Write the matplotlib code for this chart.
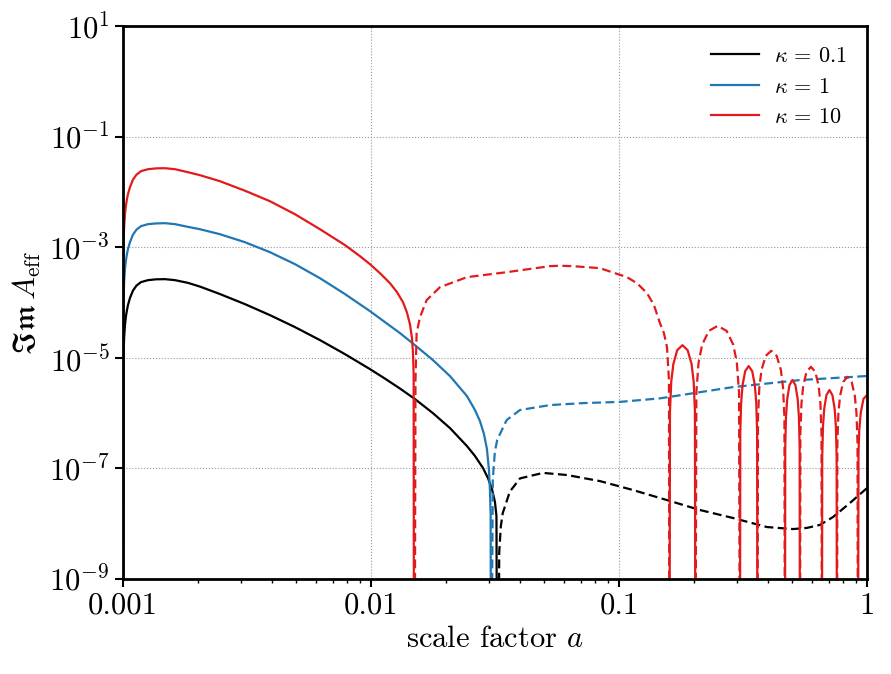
import matplotlib
matplotlib.use("Agg")
import matplotlib.pyplot as plt
from matplotlib import ticker

plt.rcParams['font.family'] = 'serif'
plt.rcParams['font.serif'] = ['cmr10', 'DejaVu Serif']
plt.rcParams['mathtext.fontset'] = 'cm'
plt.rcParams['axes.formatter.use_mathtext'] = True
plt.rcParams['axes.unicode_minus'] = True

FLOOR = 1e-12  # zeros of the signal (drawn below the axis floor)

# shared early-time sampling of the scale factor (positive branches)
early_x = [0.001, 0.0010028, 0.0010065, 0.0010112, 0.0010188, 0.0010282, 0.0010378, 0.0010475,
           0.0010671, 0.0010973, 0.0011335, 0.0011819, 0.0012615, 0.0013588, 0.0014767, 0.0016206,
           0.0018282, 0.0020441, 0.0024606, 0.0031038, 0.0039145, 0.0049371, 0.0062268, 0.0078535]

# ---- kappa = 0.1 (black) ----
k01_pos_x = early_x + [0.0099076, 0.0113875, 0.0130911, 0.0150454, 0.0177828, 0.0208217, 0.0243807,
                       0.026266, 0.0282887, 0.0296328, 0.0307537, 0.0316228, 0.0320662, 0.0323054]
k01_pos_y = [FLOOR, 4.89e-6, 1.27e-5, 2.38e-5, 3.92e-5, 5.70e-5, 7.31e-5, 9.01e-5,
             1.21e-4, 1.65e-4, 2.03e-4, 2.35e-4, 2.55e-4, 2.64e-4, 2.66e-4, 2.55e-4,
             2.28e-4, 1.95e-4, 1.43e-4, 9.39e-5, 5.94e-5, 3.61e-5, 2.10e-5, 1.17e-5,
             6.27e-6, 4.22e-6, 2.79e-6, 1.80e-6, 1.00e-6, 5.38e-7, 2.54e-7,
             1.68e-7, 1.02e-7, 6.70e-8, 4.24e-8, 2.47e-8, 1.38e-8, FLOOR]
k01_neg_x = [0.0326, 0.0329, 0.0334, 0.0340, 0.0363, 0.0399, 0.0494, 0.0617, 0.0838, 0.1138,
             0.156, 0.212, 0.288, 0.395, 0.504, 0.573, 0.646, 0.730, 0.854, 1.0]
k01_neg_y = [FLOOR, 3e-9, 9e-9, 1.56e-8, 3.8e-8, 6.6e-8, 8.3e-8, 7.6e-8, 5.9e-8, 4.07e-8,
             2.68e-8, 1.77e-8, 1.27e-8, 8.7e-9, 8.0e-9, 8.4e-9, 9.5e-9, 1.32e-8, 2.37e-8, 4.4e-8]

# ---- kappa = 1 (blue) ----
k1_pos_x = early_x + [0.0099076, 0.0113875, 0.0130911, 0.0150454, 0.0177828, 0.0208217, 0.0243807,
                      0.026266, 0.0275116, 0.0285525, 0.029359, 0.0299092, 0.0301882, 0.030385,
                      0.0304698]
k1_pos_y = [FLOOR, 5.03e-5, 1.31e-4, 2.45e-4, 4.04e-4, 5.87e-4, 7.53e-4, 9.28e-4,
            1.24e-3, 1.70e-3, 2.09e-3, 2.42e-3, 2.63e-3, 2.71e-3, 2.74e-3, 2.63e-3,
            2.35e-3, 2.13e-3, 1.73e-3, 1.24e-3, 8.18e-4, 4.97e-4, 2.77e-4, 1.43e-4,
            7.02e-5, 4.44e-5, 2.81e-5, 1.70e-5, 9.12e-6, 4.69e-6, 2.04e-6,
            1.14e-6, 7.20e-7, 4.19e-7, 2.24e-7, 9.35e-8, 4.06e-8, 1.44e-8, FLOOR]
k1_neg_x = [0.0305, 0.0310, 0.0316, 0.0323, 0.03525, 0.0399, 0.0527, 0.0716, 0.101, 0.146,
            0.288, 0.537, 1.0]
k1_neg_y = [FLOOR, 6.5e-8, 2.0e-7, 3.3e-7, 7.5e-7, 1.14e-6, 1.4e-6, 1.52e-6, 1.6e-6, 1.85e-6,
            2.96e-6, 3.97e-6, 4.7e-6]

# ---- kappa = 10 (red): alternating sign segments ----
k10_pos_x = [
    early_x + [0.009029, 0.0099076, 0.0108716, 0.0119279, 0.0127315, 0.0134608, 0.0139549,
               0.0143634, 0.0146324, 0.0147688, 0.014865, 0.0149065],
    [0.1598, 0.1606, 0.1625, 0.1657, 0.1718, 0.1803, 0.1892, 0.1963, 0.2001, 0.2025, 0.2034],
    [0.3075, 0.3085, 0.3110, 0.3151, 0.3229, 0.3336, 0.3446, 0.3531, 0.3578, 0.3607, 0.3618],
    [0.4670, 0.4684, 0.4716, 0.4770, 0.4870, 0.5007, 0.5149, 0.5257, 0.5316, 0.5353, 0.5369],
    [0.6584, 0.6602, 0.6648, 0.6723, 0.6865, 0.7058, 0.7257, 0.7411, 0.7495, 0.7547, 0.7568],
    [0.9198, 0.9245, 0.9311, 0.9441, 0.9683, 1.0],
]
k10_pos_y = [
    [FLOOR, 4.97e-4, 1.29e-3, 2.42e-3, 3.98e-3, 5.80e-3, 7.45e-3, 9.17e-3,
     0.01227, 0.01675, 0.02065, 0.02388, 0.02594, 0.02685, 0.02704, 0.02594,
     0.02291, 0.02023, 0.01574, 0.01059, 6.84e-3, 3.98e-3, 2.13e-3, 1.10e-3,
     6.93e-4, 4.97e-4, 3.41e-4, 2.25e-4, 1.55e-4, 1.02e-4, 6.73e-5,
     4.08e-5, 2.28e-5, 1.27e-5, 4.89e-6, FLOOR],
    [FLOOR, 1.07e-6, 3.72e-6, 7.73e-6, 1.38e-5, 1.70e-5, 1.38e-5, 7.73e-6, 3.72e-6, 1.07e-6, FLOOR],
    [FLOOR, 4.47e-7, 1.55e-6, 3.23e-6, 5.75e-6, 7.11e-6, 5.75e-6, 3.23e-6, 1.55e-6, 4.47e-7, FLOOR],
    [FLOOR, 2.49e-7, 8.67e-7, 1.80e-6, 3.21e-6, 3.97e-6, 3.21e-6, 1.80e-6, 8.67e-7, 2.49e-7, FLOOR],
    [FLOOR, 1.64e-7, 5.71e-7, 1.19e-6, 2.12e-6, 2.62e-6, 2.12e-6, 1.19e-6, 5.71e-7, 1.64e-7, FLOOR],
    [FLOOR, 1.9e-7, 4.89e-7, 1.02e-6, 1.81e-6, 2.12e-6],
]
k10_neg_x = [
    [0.0150, 0.01512, 0.01528, 0.01577, 0.01677, 0.01897, 0.02438, 0.03535, 0.0527, 0.0578, 0.0653,
     0.0838, 0.1077, 0.11816, 0.1297, 0.13842, 0.1463, 0.15184, 0.1562, 0.1591, 0.1598],
    [0.2034, 0.2052, 0.2095, 0.2165, 0.2303, 0.2502, 0.2717, 0.2891, 0.2987, 0.3050, 0.3075],
    [0.3618, 0.3637, 0.3682, 0.3759, 0.3907, 0.4110, 0.4326, 0.4496, 0.4588, 0.4648, 0.4670],
    [0.5369, 0.5390, 0.5445, 0.5535, 0.5707, 0.5944, 0.6193, 0.6385, 0.6491, 0.6557, 0.6584],
    [0.7568, 0.7598, 0.7672, 0.7793, 0.8024, 0.8343, 0.8676, 0.8934, 0.9075, 0.9163, 0.9198],
]
k10_neg_y = [
    [FLOOR, 3.97e-6, 2.8e-5, 5.47e-5, 1.11e-4, 1.9e-4, 2.89e-4, 3.56e-4, 4.57e-4, 4.65e-4, 4.57e-4,
     4.2e-4, 2.89e-4, 2.25e-4, 1.49e-4, 9.01e-5, 4.26e-5, 2.81e-5, 1.57e-5, 3.97e-6, FLOOR],
    [FLOOR, 2.39e-6, 8.30e-6, 1.73e-5, 3.08e-5, 3.80e-5, 3.08e-5, 1.73e-5, 8.30e-6, 2.39e-6, FLOOR],
    [FLOOR, 8.43e-7, 2.93e-6, 6.10e-6, 1.086e-5, 1.343e-5, 1.086e-5, 6.10e-6, 2.93e-6, 8.43e-7, FLOOR],
    [FLOOR, 4.34e-7, 1.51e-6, 3.13e-6, 5.58e-6, 6.90e-6, 5.58e-6, 3.13e-6, 1.51e-6, 4.34e-7, FLOOR],
    [FLOOR, 2.86e-7, 9.93e-7, 2.07e-6, 3.68e-6, 4.55e-6, 3.68e-6, 2.07e-6, 9.93e-7, 2.86e-7, FLOOR],
]

labels = [r'$\kappa\,=\,0.1$', r'$\kappa\,=\,1$', r'$\kappa\,=\,10$']
colors = ['black', '#1f77b4', '#e31a1c']
xtick_vals = [0.001, 0.01, 0.1, 1]
xtick_labels = ['0.001', '0.01', '0.1', '1']
ytick_vals = [1e-9, 1e-7, 1e-5, 1e-3, 1e-1, 1e1]

fig = plt.figure(figsize=(8.91, 6.74), dpi=100)
ax = fig.add_axes([0.138, 0.141, 0.835, 0.820])

lw = 1.6
dash = (4, 2)
ax.plot(k01_pos_x, k01_pos_y, color=colors[0], lw=lw, label=labels[0])
ax.plot(k01_neg_x, k01_neg_y, color=colors[0], lw=lw, ls='--', dashes=dash)
ax.plot(k1_pos_x, k1_pos_y, color=colors[1], lw=lw, label=labels[1])
ax.plot(k1_neg_x, k1_neg_y, color=colors[1], lw=lw, ls='--', dashes=dash)
for i, (xs, ys) in enumerate(zip(k10_pos_x, k10_pos_y)):
    ax.plot(xs, ys, color=colors[2], lw=lw, label=labels[2] if i == 0 else None)
for xs, ys in zip(k10_neg_x, k10_neg_y):
    ax.plot(xs, ys, color=colors[2], lw=lw, ls='--', dashes=dash)

ax.set_xscale('log')
ax.set_yscale('log')
ax.set_xlim(1e-3, 1)
ax.set_ylim(1e-9, 1e1)

ax.set_xticks(xtick_vals)
ax.set_xticklabels(xtick_labels)
ax.xaxis.set_minor_locator(ticker.LogLocator(base=10, subs=range(2, 10), numticks=20))
ax.xaxis.set_minor_formatter(ticker.NullFormatter())
ax.yaxis.set_major_locator(ticker.FixedLocator(ytick_vals))
ax.yaxis.set_major_formatter(ticker.LogFormatterMathtext())
ax.yaxis.set_minor_locator(ticker.NullLocator())

ax.tick_params(which='major', direction='out', length=6, width=1.5, labelsize=22, top=False, right=False)
ax.tick_params(which='minor', direction='out', length=3, width=1.0, top=False, right=False)
for sp in ax.spines.values():
    sp.set_linewidth(2.0)

ax.grid(True, which='major', color='#999999', ls=':', lw=0.8)

ax.set_xlabel(r'scale factor $a$', fontsize=22)
ax.set_ylabel(r'$\mathfrak{Im}\,A_{\rm eff}$', fontsize=22)

ax.legend(loc='upper right', frameon=False, fontsize=16, handlelength=2.2, handletextpad=0.65)

fig.savefig('out.png', dpi=100)
